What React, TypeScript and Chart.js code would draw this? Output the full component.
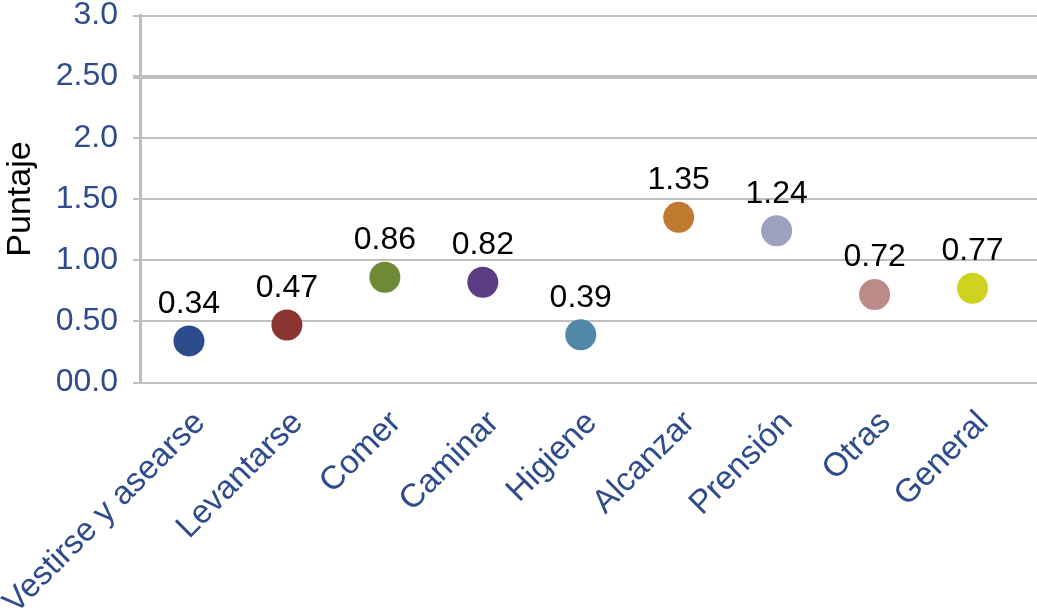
import React, { useEffect, useRef } from "react";
import { Chart, registerables } from "chart.js";

Chart.register(...registerables);

const categories = [
  "Vestirse y asearse",
  "Levantarse",
  "Comer",
  "Caminar",
  "Higiene",
  "Alcanzar",
  "Prensión",
  "Otras",
  "General",
];
const values = [0.34, 0.47, 0.86, 0.82, 0.39, 1.35, 1.24, 0.72, 0.77];
const valueLabels = ["0.34", "0.47", "0.86", "0.82", "0.39", "1.35", "1.24", "0.72", "0.77"];
const pointColors = [
  "#2C4C8B",
  "#8A3531",
  "#6F8A35",
  "#5C3D82",
  "#5287A9",
  "#BF7A2F",
  "#9BA1BF",
  "#BB8B88",
  "#CDD31F",
];
const yTickValues = [0, 0.5, 1, 1.5, 2, 2.5, 3];
const yTickLabels = ["00.0", "0.50", "1.00", "1.50", "2.0", "2.50", "3.0"];
const yTitle = "Puntaje";

const FONT = "'Liberation Sans', Arial, sans-serif";
const GRID = "#BFBFBF";
const TICK_COLOR = "#2E4B8B";

export default function App() {
  const ref = useRef<HTMLCanvasElement | null>(null);

  useEffect(() => {
    document.body.style.margin = "0";
    const canvas = ref.current;
    if (!canvas) return;

    // Horizontal gridlines across the plot, running on to the right edge of the canvas
    const gridLines = {
      id: "gridLines",
      beforeDatasetsDraw(chart: any) {
        const { ctx, chartArea } = chart;
        const y = chart.scales.y;
        const dpr = chart.currentDevicePixelRatio || 1;
        ctx.save();
        ctx.strokeStyle = GRID;
        ctx.lineCap = "butt";
        yTickValues.forEach((v) => {
          const w = v === 2.5 ? 4 : 2;
          const raw = y.getPixelForValue(v);
          const py = Math.round((raw - w / 2) * dpr) / dpr + w / 2;
          ctx.lineWidth = w;
          ctx.beginPath();
          ctx.moveTo(chartArea.left, py);
          ctx.lineTo(chart.width, py);
          ctx.stroke();
        });
        ctx.restore();
      },
    };

    const valueLabelPlugin = {
      id: "valueLabels",
      afterDatasetsDraw(chart: any) {
        const { ctx } = chart;
        const meta = chart.getDatasetMeta(0);
        ctx.save();
        ctx.fillStyle = "#000000";
        ctx.font = `32px ${FONT}`;
        ctx.textAlign = "center";
        ctx.textBaseline = "alphabetic";
        meta.data.forEach((pt: any, i: number) => {
          ctx.fillText(valueLabels[i], pt.x, pt.y - 28);
        });
        ctx.restore();
      },
    };

    const chart = new Chart(canvas, {
      type: "line",
      data: {
        labels: categories,
        datasets: [
          {
            data: values,
            showLine: false,
            pointRadius: 15.5,
            pointHoverRadius: 15.5,
            pointBorderWidth: 0,
            pointBackgroundColor: pointColors,
            pointBorderColor: pointColors,
          },
        ],
      },
      options: {
        animation: false,
        responsive: true,
        maintainAspectRatio: false,
        layout: { padding: { top: 12.5, right: 10, left: 0, bottom: 0 } },
        plugins: {
          legend: { display: false },
          tooltip: { enabled: false },
        },
        scales: {
          x: {
            type: "category",
            offset: true,
            grid: { display: false, drawTicks: false },
            border: { display: false },
            ticks: {
              autoSkip: false,
              maxRotation: 45,
              minRotation: 45,
              color: TICK_COLOR,
              font: { family: FONT, size: 33 },
              padding: 21,
              labelOffset: 11,
            },
            afterFit(scale: any) {
              scale.height = 228.5;
              scale.paddingLeft = 0;
              scale.paddingRight = 0;
            },
          },
          y: {
            type: "linear",
            min: 0,
            max: 3,
            afterBuildTicks(scale: any) {
              scale.ticks = yTickValues.map((v) => ({ value: v }));
            },
            grid: {
              color: GRID,
              lineWidth: (ctx: any) => (ctx.tick && ctx.tick.value === 2.5 ? 4 : 2),
              tickLength: 7,
              drawTicks: true,
              drawOnChartArea: false,
            },
            border: { display: true, color: GRID, width: 3 },
            ticks: {
              color: TICK_COLOR,
              font: { family: FONT, size: 32, lineHeight: 0.8 },
              padding: 15,
              callback: (value: any) => {
                const idx = yTickValues.indexOf(Number(value));
                return idx >= 0 ? yTickLabels[idx] : "";
              },
            },
            title: {
              display: true,
              text: yTitle,
              color: "#000000",
              font: { family: FONT, size: 34 },
              padding: { top: 0, bottom: 0 },
            },
            afterFit(scale: any) {
              scale.width = 140;
              scale.paddingTop = 0;
              scale.paddingBottom = 0;
            },
          },
        },
      },
      plugins: [gridLines, valueLabelPlugin],
    });

    return () => {
      chart.destroy();
    };
  }, []);

  return (
    <div style={{ width: 1037, height: 611, position: "relative" }}>
      <canvas ref={ref} />
    </div>
  );
}
